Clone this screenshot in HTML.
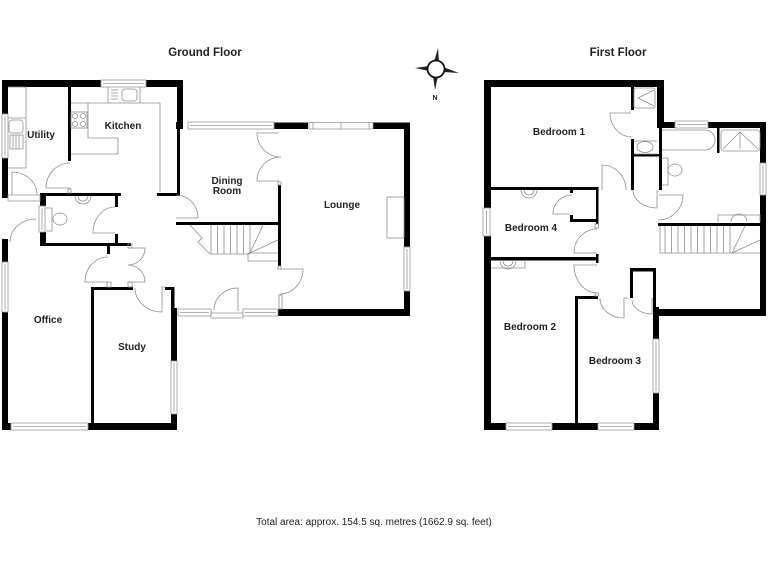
<!DOCTYPE html>
<html><head><meta charset="utf-8"><style>
html,body{margin:0;padding:0;background:#fff;width:768px;height:576px;overflow:hidden}
svg{display:block;filter:blur(.35px)}
text{font-family:"Liberation Sans",sans-serif;fill:#222}
.l{font-weight:bold;font-size:10px;text-anchor:middle}
.t{font-weight:bold;font-size:11.500px;text-anchor:middle}
.w{fill:#000;stroke:none}
.g{fill:none;stroke:#8f8f8f;stroke-width:.8}
.win{fill:#fff;stroke:#999;stroke-width:.8}
.wl{stroke:#999;stroke-width:.8;fill:none}
</style></head><body>
<svg width="768" height="576" viewBox="0 0 768 576" xmlns="http://www.w3.org/2000/svg">
<rect width="768" height="576" fill="#fff"/>
<text class="t" x="205" y="56">Ground Floor</text>
<text class="t" x="618" y="56">First Floor</text>
<text x="374" y="525" font-size="10" text-anchor="middle" fill="#333">Total area: approx. 154.5 sq. metres (1662.9 sq. feet)</text>

<!-- compass -->
<g>
<polygon points="438,48 434,62 439,62" fill="#222"/>
<polygon points="435,90 433,76 438,76" fill="#222"/>
<polygon points="415,68 429,66 429,71" fill="#222"/>
<polygon points="459,73 443,67 443,72" fill="#222"/>
<circle cx="436" cy="69" r="8.500" fill="#fff" stroke="#111" stroke-width="1.800"/>
<text x="435" y="100" font-size="7" font-weight="bold" text-anchor="middle">N</text>
</g>

<!-- GROUND walls -->
<g class="w">
<rect x="2" y="80" width="99" height="7"/><rect x="146" y="80" width="37" height="7"/>
<rect x="2" y="80" width="6" height="34"/><rect x="2" y="158" width="6" height="40"/>
<rect x="68" y="87" width="3" height="74"/>
<rect x="177" y="80" width="6" height="49"/><rect x="177" y="129" width="3" height="64"/>
<rect x="40" y="193" width="81" height="3"/><rect x="157" y="193" width="23" height="3"/>
<rect x="40" y="193" width="6" height="13"/><rect x="40" y="232" width="6" height="14"/>
<rect x="40" y="243" width="91" height="3"/>
<rect x="115" y="195" width="3" height="12"/><rect x="115" y="234" width="3" height="10"/>
<rect x="107" y="245" width="3" height="9"/>
<rect x="2" y="239" width="6" height="23"/><rect x="2" y="312" width="6" height="118"/>
<rect x="2" y="423" width="9" height="7"/><rect x="88" y="423" width="89" height="7"/>
<rect x="91" y="287" width="3" height="137"/><rect x="91" y="287" width="42" height="3"/>
<rect x="165" y="287" width="9" height="3"/><rect x="171" y="287" width="3.500" height="22"/>
<rect x="171" y="308" width="6" height="53"/><rect x="171" y="414" width="6" height="16"/>
<rect x="176" y="122" width="7" height="7"/>
<rect x="274" y="122.500" width="34" height="6.500"/><rect x="373" y="122.500" width="37" height="6.500"/>
<rect x="404" y="122.500" width="6" height="124.500"/><rect x="404" y="291" width="6" height="25"/>
<rect x="278" y="309" width="132" height="7"/>
<rect x="278" y="185" width="3" height="81"/>
<rect x="176" y="222" width="105" height="3"/>
<rect x="170" y="193" width="7" height="3"/>
</g>
<!-- GROUND windows -->
<g>
<rect class="win" x="101" y="80" width="45" height="7"/><path class="wl" d="M103 83.500H144"/>
<rect class="win" x="2" y="114" width="6" height="44"/><path class="wl" d="M5 116V156"/>
<rect class="win" x="39" y="206" width="6" height="26"/><path class="wl" d="M42 208V230"/>
<rect class="win" x="2" y="262" width="6" height="50"/><path class="wl" d="M5 264V310"/>
<rect class="win" x="11" y="423" width="77" height="7"/><path class="wl" d="M13 426.500H86"/>
<rect class="win" x="171" y="361" width="6" height="53"/><path class="wl" d="M174 363V412"/>
<rect class="win" x="188" y="122" width="86" height="7"/><path class="wl" d="M190 125.500H272"/>
<rect class="win" x="309" y="122.500" width="64" height="6.500"/><path class="wl" d="M341 122.500V129M313 122.500V129M369 122.500V129"/>
<rect class="win" x="404" y="247" width="6" height="44"/><path class="wl" d="M407 249V289"/>
<rect class="win" x="178" y="309" width="33" height="7"/><path class="wl" d="M180 312.500H209"/>
<rect class="win" x="243" y="309" width="35" height="7"/><path class="wl" d="M245 312.500H276"/>
<rect class="win" x="211" y="313" width="32" height="5"/>
<rect class="win" x="8" y="195" width="32" height="6"/>
</g>
<!-- GROUND fixtures -->
<g class="g">
<path d="M8 87H26V168H8M8 118H26"/>
<rect x="9" y="120" width="14" height="13" rx="3"/>
<path d="M10 135H23V149H10Z M13 135V149M16 135V149M19 135V149"/>
<path d="M71 103H160V192M88 103V138H118V154H71"/>
<path d="M108 87V103M140 87V103"/>
<rect x="71" y="112" width="16" height="16"/>
<circle cx="75" cy="116" r="2.500"/><circle cx="83" cy="116" r="2.500"/><circle cx="75" cy="124" r="2.500"/><circle cx="83" cy="124" r="2.500"/>
<path d="M111 90H118M111 93H118M111 96H118M111 99H118"/>
<rect x="122" y="89" width="15" height="12" rx="3"/>
<path d="M46 208H52V231H46"/>
<ellipse cx="60" cy="219" rx="7" ry="6"/>
<path d="M75 196a8 8 0 0 0 16 0"/><path d="M78 196a5 5 0 0 0 10 0"/>
<rect x="387" y="197" width="17" height="41"/>
<!-- doors -->
<path d="M70 163A24 25 0 0 0 46 188H70"/>
<path d="M12 172V195M12 172A25 23 0 0 1 37 195"/>
<path d="M115 207A22 26 0 0 0 93 233H115"/>
<path d="M36 219A26 23 0 0 0 10 242"/>
<path d="M176 195A22 23 0 0 1 198 218H176"/>
<path d="M279 133H257A24 24 0 0 0 281 157A24 24 0 0 0 257 181H279"/>
<path d="M280 269H303A23 25 0 0 1 280 294"/>
<path d="M238 311V288A24 22 0 0 0 214 310"/>
<path d="M108 257A23 25 0 0 0 85 282H108"/>
<path d="M128 248H145A17 17 0 0 1 128 265A17 17 0 0 1 145 282H128"/>
<path d="M135 288A27 24 0 0 0 162 312V287H165"/>
<rect x="107" y="282" width="4" height="5"/><rect x="128" y="282" width="4" height="5"/>
<rect x="128" y="244" width="4" height="4"/><rect x="68" y="189" width="3" height="4"/>
<rect x="278" y="182" width="3" height="3"/><rect x="278" y="266" width="3" height="3"/>
<rect x="279" y="295" width="3" height="14"/>
<!-- stairs -->
<path d="M190 225L202 238L198 242L210 254H250M263 225L250 253M278 240L250 253M248 253H278M248 253V261H278"/>
<path d="M211 225V254M217.500 225V254M224 225V254M230.500 225V254M237 225V254M243.500 225V254M250 225V254"/>
</g>

<!-- FIRST walls -->
<g class="w">
<rect x="484" y="80" width="180" height="7"/>
<rect x="484" y="80" width="7" height="128"/><rect x="484" y="236" width="7" height="194"/>
<rect x="491" y="187" width="107" height="3"/>
<rect x="596" y="187" width="2.500" height="37"/>
<rect x="570" y="219" width="28" height="3"/><rect x="570" y="215" width="3" height="6"/><rect x="570" y="190" width="3" height="3"/>
<rect x="491" y="257" width="107" height="3.500"/><rect x="596" y="254" width="2.500" height="9"/>
<rect x="631" y="87" width="3" height="23"/><rect x="631" y="139" width="3" height="51"/>
<rect x="631" y="154" width="29" height="2.500"/>
<rect x="657" y="80" width="7" height="48"/><rect x="659" y="128" width="3" height="62"/>
<rect x="657" y="122" width="18" height="6"/>
<rect x="708" y="122" width="58" height="6"/>
<rect x="760" y="122" width="6" height="41"/><rect x="760" y="195" width="6" height="121"/>
<rect x="717" y="128" width="2.500" height="25"/>
<rect x="658" y="223" width="102" height="3"/>
<rect x="655" y="309" width="111" height="7"/>
<rect x="653" y="268" width="3" height="48"/>
<rect x="630" y="268" width="26" height="3.500"/>
<rect x="630" y="268" width="3" height="30"/>
<rect x="575" y="296" width="3" height="128"/><rect x="575" y="296" width="23" height="3"/>
<rect x="484" y="423" width="22" height="7"/><rect x="552" y="423" width="46" height="7"/><rect x="634" y="423" width="25" height="7"/>
<rect x="653" y="307" width="6" height="32"/><rect x="653" y="393" width="6" height="37"/>
</g>
<!-- FIRST windows -->
<g>
<rect class="win" x="483" y="208" width="7" height="28"/><path class="wl" d="M486.500 210V234"/>
<rect class="win" x="675" y="121" width="33" height="7"/><path class="wl" d="M677 124.500H706"/>
<rect class="win" x="760" y="163" width="6" height="32"/><path class="wl" d="M763 165V193"/>
<rect class="win" x="506" y="423" width="46" height="7"/><path class="wl" d="M508 426.500H550"/>
<rect class="win" x="598" y="423" width="36" height="7"/><path class="wl" d="M600 426.500H632"/>
<rect class="win" x="653" y="339" width="6" height="54"/><path class="wl" d="M656 341V391"/>
</g>
<!-- FIRST fixtures -->
<g class="g">
<rect x="634" y="88" width="21" height="20" rx="2"/><path d="M654 90L638 98L654 106"/>
<path d="M634 141H657M634 154H657"/><ellipse cx="645" cy="147" rx="8" ry="5.500"/>
<path d="M662 130H705a10 10 0 0 1 10 10a10 10 0 0 1-10 10H662"/>
<rect x="721" y="130" width="39" height="21" rx="3"/><path d="M723 149L740 132L758 149M740 132V149"/>
<path d="M662 158H668V185H662"/><ellipse cx="675" cy="170" rx="7" ry="6"/>
<path d="M718 222V215H760V222"/><path d="M731 222a8 8 0 0 1 16 0"/>
<path d="M521 190a8 8 0 0 0 16 0"/><path d="M524 190a5 5 0 0 0 10 0"/>
<path d="M491 268H525V261"/><path d="M500 261a8 8 0 0 0 16 0"/><path d="M503 261a5 5 0 0 0 10 0"/>
<!-- stairs -->
<path d="M660 226V253H760M745 226L732 253M760 240L732 253"/>
<path d="M665 226V253M671.500 226V253M678 226V253M684.500 226V253M691 226V253M697.500 226V253M704 226V253M710.500 226V253M717 226V253M723.500 226V253M730 226V253"/>
<!-- doors -->
<path d="M631 113H610A22 24 0 0 0 632 137"/>
<path d="M602 190V165A24 25 0 0 1 626 190"/>
<path d="M633 190A24 18 0 0 0 657 208V190"/>
<path d="M658 220A25 25 0 0 0 683 195H659"/>
<path d="M572 195A19 19 0 0 0 553 214H570"/>
<path d="M597 229A23 24 0 0 0 574 253H597"/>
<path d="M597 265H574A23 28 0 0 0 597 293"/>
<path d="M600 298A24 20 0 0 0 624 318V298H628"/>
<path d="M632 300A20 14 0 0 0 652 314V298"/>
<rect x="595" y="224" width="3.500" height="4"/><rect x="595" y="293" width="3.500" height="3"/>
</g>

<!-- labels -->
<text class="l" x="41" y="138">Utility</text>
<text class="l" x="123" y="129">Kitchen</text>
<text class="l" x="227" y="184">Dining</text>
<text class="l" x="227" y="194">Room</text>
<text class="l" x="342" y="208">Lounge</text>
<text class="l" x="48" y="323">Office</text>
<text class="l" x="132" y="350">Study</text>
<text class="l" x="559" y="135">Bedroom 1</text>
<text class="l" x="531" y="231">Bedroom 4</text>
<text class="l" x="530" y="330">Bedroom 2</text>
<text class="l" x="615" y="364">Bedroom 3</text>
</svg>
</body></html>
